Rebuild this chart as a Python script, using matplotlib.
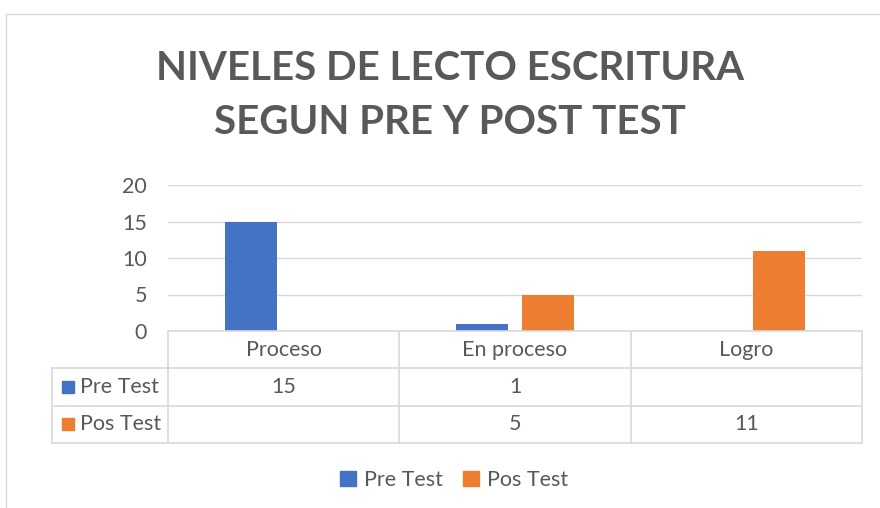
import matplotlib
matplotlib.use('Agg')
import matplotlib.pyplot as plt
from matplotlib.patches import Patch, Rectangle
from matplotlib.lines import Line2D

# Datos del gráfico
categorias = ['Proceso', 'En proceso', 'Logro']
series = ['Pre Test', 'Pos Test']
pre_test = [15, 1, None]
pos_test = [None, 5, 11]
yticks = [0, 5, 10, 15, 20]

colores = ['#4472C4', '#ED7D31']
gris = '#595959'
linea = '#D9D9D9'
fs = 15.5

plt.rcParams['font.family'] = ['Lato', 'DejaVu Sans']

W, H = 880, 508
fig = plt.figure(figsize=(W / 100, H / 100), dpi=100)

def fx(px):
    return px / W

def fy(py):
    return 1 - py / H

# borde del área del gráfico
fig.add_artist(Line2D([fx(6), 1], [fy(14), fy(14)], color=linea, lw=1))
fig.add_artist(Line2D([fx(6), fx(6)], [fy(14), 0], color=linea, lw=1))

x0, x1, ytop, ybot = 168, 862, 185, 331
ax = fig.add_axes([fx(x0), fy(ybot), fx(x1 - x0), (ybot - ytop) / H])
n = len(categorias)
ancho = 0.225
desp = 0.143
for i, (vals, c) in enumerate(zip([pre_test, pos_test], colores)):
    xs = [k + 0.5 + (i * 2 - 1) * desp for k in range(n) if vals[k] is not None]
    hs = [v for v in vals if v is not None]
    ax.bar(xs, hs, width=ancho, color=c, zorder=3)

ax.set_xlim(0, n)
ax.set_ylim(0, 20)
ax.set_yticks(yticks)
ax.set_xticks([])
ax.grid(axis='y', color=linea, lw=1, zorder=0)
for s in ax.spines.values():
    s.set_visible(False)
ax.tick_params(axis='y', length=0, labelsize=fs, labelcolor=gris, pad=15)

# tabla de datos
fila = 37.3
filas_y = [ybot + fila * k for k in range(4)]
cols_x = [x0 + (x1 - x0) * k / n for k in range(n + 1)]
for k, yy in enumerate(filas_y):
    xa = x0 if k == 0 else 52
    fig.add_artist(Line2D([fx(xa), fx(x1)], [fy(yy), fy(yy)], color=linea, lw=1.2))
for xx in cols_x:
    fig.add_artist(Line2D([fx(xx), fx(xx)], [fy(ybot), fy(filas_y[-1])], color=linea, lw=1.2))
fig.add_artist(Line2D([fx(52), fx(52)], [fy(filas_y[1]), fy(filas_y[-1])], color=linea, lw=1.2))

for k, cat in enumerate(categorias):
    cx = (cols_x[k] + cols_x[k + 1]) / 2
    fig.text(fx(cx), fy(ybot + fila / 2), cat, ha='center', va='center', fontsize=fs, color=gris)
for r, (nombre, vals, c) in enumerate(zip(series, [pre_test, pos_test], colores)):
    cy = filas_y[r + 1] + fila / 2
    fig.add_artist(Rectangle((fx(62), fy(cy + 6)), fx(12), 12 / H, color=c))
    fig.text(fx(80), fy(cy), nombre, ha='left', va='center', fontsize=fs, color=gris)
    for k, v in enumerate(vals):
        if v is not None:
            cx = (cols_x[k] + cols_x[k + 1]) / 2
            fig.text(fx(cx), fy(cy), str(v), ha='center', va='center', fontsize=fs, color=gris)

# título
fig.text(fx(450), fy(68), 'NIVELES DE LECTO ESCRITURA', ha='center', va='center',
         fontsize=29, fontweight='bold', color=gris)
fig.text(fx(450), fy(123), 'SEGUN PRE Y POST TEST', ha='center', va='center',
         fontsize=29, fontweight='bold', color=gris)

# leyenda
handles = [Patch(color=c, label=s) for s, c in zip(series, colores)]
leg = fig.legend(handles=handles, loc='center', bbox_to_anchor=(fx(454), fy(480)), ncol=2,
                 frameon=False, fontsize=fs, handlelength=0.75, handleheight=0.75,
                 handletextpad=0.4, columnspacing=0.9)
for t in leg.get_texts():
    t.set_color(gris)

fig.savefig('out.png', dpi=100)
